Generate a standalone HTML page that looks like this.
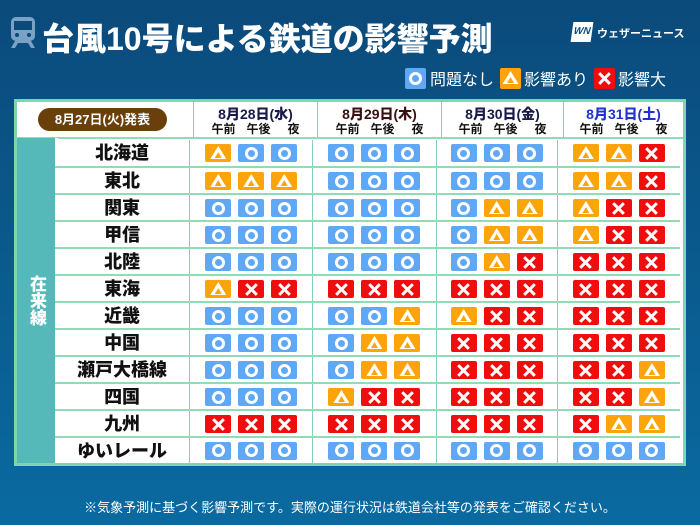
<!DOCTYPE html>
<html><head><meta charset="utf-8"><style>
*,*::before,*::after{margin:0;padding:0;box-sizing:border-box}
body{width:700px;height:525px;overflow:hidden;background:linear-gradient(#0b4a7b,#0a6aa0);font-family:"Liberation Sans","Noto Sans CJK JP",sans-serif;position:relative}
.abs{position:absolute}
#title{left:42px;top:14px;color:#fff;font-size:32px;font-weight:900;letter-spacing:0px;white-space:nowrap}
#tbl{left:14px;top:99px;width:672px;height:367px;background:#7fd6ac}
#inner{position:absolute;left:3px;top:3px;width:666px;height:361px;background:#fff}
.row{position:absolute;left:41px;width:625px;height:26px;display:flex}
.nm{width:135px;text-align:center;font-weight:900;font-size:18px;line-height:26px;color:#111}
.c{display:flex;justify-content:center;align-items:center;gap:7px;border-left:1px solid #7fd0c0}
.c1,.c2{width:124px}.c3{width:122px}.c4{width:124px}
i{display:block;width:26px;height:18px;border-radius:2px;position:relative;flex:none}
i.o{background:#5ea8f5}
i.o::after{content:"";position:absolute;left:50%;top:50%;width:13px;height:13px;margin:-6.5px 0 0 -6.5px;border:3px solid #fff;border-radius:50%}
i.t{background:#fca40a}
i.t::before{content:"";position:absolute;left:50%;top:50%;width:16px;height:13px;margin:-7px 0 0 -8px;background:#fff;clip-path:polygon(50% 0,100% 100%,0 100%)}
i.t::after{content:"";position:absolute;left:50%;top:50%;width:7px;height:6px;margin:-1px 0 0 -3.5px;background:#fca40a;clip-path:polygon(50% 0,100% 100%,0 100%)}
i.x{background:#f00d0d}
i.x::before,i.x::after{content:"";position:absolute;left:50%;top:50%;width:15px;height:3px;margin:-1.5px 0 0 -7.5px;background:#fff;transform:rotate(45deg)}
i.x::after{transform:rotate(-45deg)}
.sep{position:absolute;left:41px;width:625px;height:2px;background:#8fdcb5}
.hd{position:absolute;top:0;height:35px;text-align:center;font-weight:bold;border-left:1px solid #7fd0c0}
.hd b{display:block;font-size:14px;line-height:17px;margin-top:4px}
.hd span{display:flex;justify-content:center;gap:11px;font-size:12px;font-weight:bold;line-height:13px;color:#111}
em{font-style:normal}
</style></head><body>
<svg class="abs" style="left:10px;top:17px" width="26" height="32" viewBox="0 0 26 32"><rect x="1" y="0" width="24" height="24" rx="5" fill="#7aa2c4"/><rect x="4" y="4" width="18" height="9" fill="#0b4a7b"/><circle cx="7" cy="18" r="2" fill="#0b4a7b"/><circle cx="19" cy="18" r="2" fill="#0b4a7b"/><path d="M5 24 L1 31 H5 L8 26 H18 L21 31 H25 L21 24Z" fill="#7aa2c4"/></svg>
<div class="abs" id="title">台風10号による鉄道の影響予測</div>
<div class="abs" style="left:572px;top:22px;width:20px;height:20px;background:#fff;transform:skewX(-8deg);color:#0b4a7b;font-size:10px;font-weight:900;line-height:20px;text-align:center;font-style:italic">WN</div>
<div class="abs" style="left:597px;top:25px;color:#fff;font-size:11px;font-weight:bold;white-space:nowrap">ウェザーニュース</div>
<div class="abs" style="left:405px;top:66px;display:flex;align-items:center;color:#fff;font-size:16px;white-space:nowrap">
<i class="o" style="width:21px;height:21px"></i><span style="margin:0 6px 0 4px">問題なし</span><i class="t" style="width:21px;height:21px"></i><span style="margin:0 6px 0 3px">影響あり</span><i class="x" style="width:21px;height:21px"></i><span style="margin-left:3px">影響大</span></div>
<div class="abs" id="tbl"><div id="inner">
<div class="abs" style="left:21px;top:6px;width:129px;height:23px;background:#6b3f0a;border-radius:12px;color:#fff;font-size:13px;font-weight:bold;text-align:center;line-height:23px">8月27日(火)発表</div>
<div class="hd" style="left:176px;width:124px"><b style="color:#1a1a4a">8月28日(水)</b><span><em>午前</em><em>午後</em><em style="margin-left:6px">夜</em></span></div>
<div class="hd" style="left:300px;width:124px"><b style="color:#3a1010">8月29日(木)</b><span><em>午前</em><em>午後</em><em style="margin-left:6px">夜</em></span></div>
<div class="hd" style="left:424px;width:122px"><b style="color:#1a1a4a">8月30日(金)</b><span><em>午前</em><em>午後</em><em style="margin-left:6px">夜</em></span></div>
<div class="hd" style="left:546px;width:120px"><b style="color:#2233cc">8月31日(土)</b><span><em>午前</em><em>午後</em><em style="margin-left:6px">夜</em></span></div>
<div class="abs" style="left:0;top:35px;width:666px;height:2px;background:#8fdcb5"></div>
<div class="abs" style="left:0;top:36px;width:38px;height:325px;background:#56b9b9;color:#fff;font-size:17px;font-weight:900;writing-mode:vertical-rl;text-align:center;line-height:38px;display:flex;align-items:center;justify-content:center">在来線</div>
<div class="abs" style="left:38px;top:36px;width:3px;height:325px;background:#fff"></div>

<div class="row" style="left:38px;top:38px"><div class="nm">北海道</div><div class="c c1"><i class="t"></i><i class="o"></i><i class="o"></i></div><div class="c c2"><i class="o"></i><i class="o"></i><i class="o"></i></div><div class="c c3"><i class="o"></i><i class="o"></i><i class="o"></i></div><div class="c c4"><i class="t"></i><i class="t"></i><i class="x"></i></div></div>
<div class="sep" style="left:38px;top:64px"></div>
<div class="row" style="left:38px;top:66px"><div class="nm">東北</div><div class="c c1"><i class="t"></i><i class="t"></i><i class="t"></i></div><div class="c c2"><i class="o"></i><i class="o"></i><i class="o"></i></div><div class="c c3"><i class="o"></i><i class="o"></i><i class="o"></i></div><div class="c c4"><i class="t"></i><i class="t"></i><i class="x"></i></div></div>
<div class="sep" style="left:38px;top:91px"></div>
<div class="row" style="left:38px;top:93px"><div class="nm">関東</div><div class="c c1"><i class="o"></i><i class="o"></i><i class="o"></i></div><div class="c c2"><i class="o"></i><i class="o"></i><i class="o"></i></div><div class="c c3"><i class="o"></i><i class="t"></i><i class="t"></i></div><div class="c c4"><i class="t"></i><i class="x"></i><i class="x"></i></div></div>
<div class="sep" style="left:38px;top:118px"></div>
<div class="row" style="left:38px;top:120px"><div class="nm">甲信</div><div class="c c1"><i class="o"></i><i class="o"></i><i class="o"></i></div><div class="c c2"><i class="o"></i><i class="o"></i><i class="o"></i></div><div class="c c3"><i class="o"></i><i class="t"></i><i class="t"></i></div><div class="c c4"><i class="t"></i><i class="x"></i><i class="x"></i></div></div>
<div class="sep" style="left:38px;top:145px"></div>
<div class="row" style="left:38px;top:147px"><div class="nm">北陸</div><div class="c c1"><i class="o"></i><i class="o"></i><i class="o"></i></div><div class="c c2"><i class="o"></i><i class="o"></i><i class="o"></i></div><div class="c c3"><i class="o"></i><i class="t"></i><i class="x"></i></div><div class="c c4"><i class="x"></i><i class="x"></i><i class="x"></i></div></div>
<div class="sep" style="left:38px;top:172px"></div>
<div class="row" style="left:38px;top:174px"><div class="nm">東海</div><div class="c c1"><i class="t"></i><i class="x"></i><i class="x"></i></div><div class="c c2"><i class="x"></i><i class="x"></i><i class="x"></i></div><div class="c c3"><i class="x"></i><i class="x"></i><i class="x"></i></div><div class="c c4"><i class="x"></i><i class="x"></i><i class="x"></i></div></div>
<div class="sep" style="left:38px;top:199px"></div>
<div class="row" style="left:38px;top:201px"><div class="nm">近畿</div><div class="c c1"><i class="o"></i><i class="o"></i><i class="o"></i></div><div class="c c2"><i class="o"></i><i class="o"></i><i class="t"></i></div><div class="c c3"><i class="t"></i><i class="x"></i><i class="x"></i></div><div class="c c4"><i class="x"></i><i class="x"></i><i class="x"></i></div></div>
<div class="sep" style="left:38px;top:226px"></div>
<div class="row" style="left:38px;top:228px"><div class="nm">中国</div><div class="c c1"><i class="o"></i><i class="o"></i><i class="o"></i></div><div class="c c2"><i class="o"></i><i class="t"></i><i class="t"></i></div><div class="c c3"><i class="x"></i><i class="x"></i><i class="x"></i></div><div class="c c4"><i class="x"></i><i class="x"></i><i class="x"></i></div></div>
<div class="sep" style="left:38px;top:253px"></div>
<div class="row" style="left:38px;top:255px"><div class="nm">瀬戸大橋線</div><div class="c c1"><i class="o"></i><i class="o"></i><i class="o"></i></div><div class="c c2"><i class="o"></i><i class="t"></i><i class="t"></i></div><div class="c c3"><i class="x"></i><i class="x"></i><i class="x"></i></div><div class="c c4"><i class="x"></i><i class="x"></i><i class="t"></i></div></div>
<div class="sep" style="left:38px;top:280px"></div>
<div class="row" style="left:38px;top:282px"><div class="nm">四国</div><div class="c c1"><i class="o"></i><i class="o"></i><i class="o"></i></div><div class="c c2"><i class="t"></i><i class="x"></i><i class="x"></i></div><div class="c c3"><i class="x"></i><i class="x"></i><i class="x"></i></div><div class="c c4"><i class="x"></i><i class="x"></i><i class="t"></i></div></div>
<div class="sep" style="left:38px;top:307px"></div>
<div class="row" style="left:38px;top:309px"><div class="nm">九州</div><div class="c c1"><i class="x"></i><i class="x"></i><i class="x"></i></div><div class="c c2"><i class="x"></i><i class="x"></i><i class="x"></i></div><div class="c c3"><i class="x"></i><i class="x"></i><i class="x"></i></div><div class="c c4"><i class="x"></i><i class="t"></i><i class="t"></i></div></div>
<div class="sep" style="left:38px;top:334px"></div>
<div class="row" style="left:38px;top:336px;height:25px"><div class="nm">ゆいレール</div><div class="c c1"><i class="o"></i><i class="o"></i><i class="o"></i></div><div class="c c2"><i class="o"></i><i class="o"></i><i class="o"></i></div><div class="c c3"><i class="o"></i><i class="o"></i><i class="o"></i></div><div class="c c4"><i class="o"></i><i class="o"></i><i class="o"></i></div></div>
<div class="abs" style="left:176px;top:0;width:1px;height:36px;background:#7fd0c0"></div>
</div></div>
<div class="abs" style="left:0;top:497px;width:700px;text-align:center;color:#fff;font-size:13px">※気象予測に基づく影響予測です。実際の運行状況は鉄道会社等の発表をご確認ください。</div>
</body></html>
